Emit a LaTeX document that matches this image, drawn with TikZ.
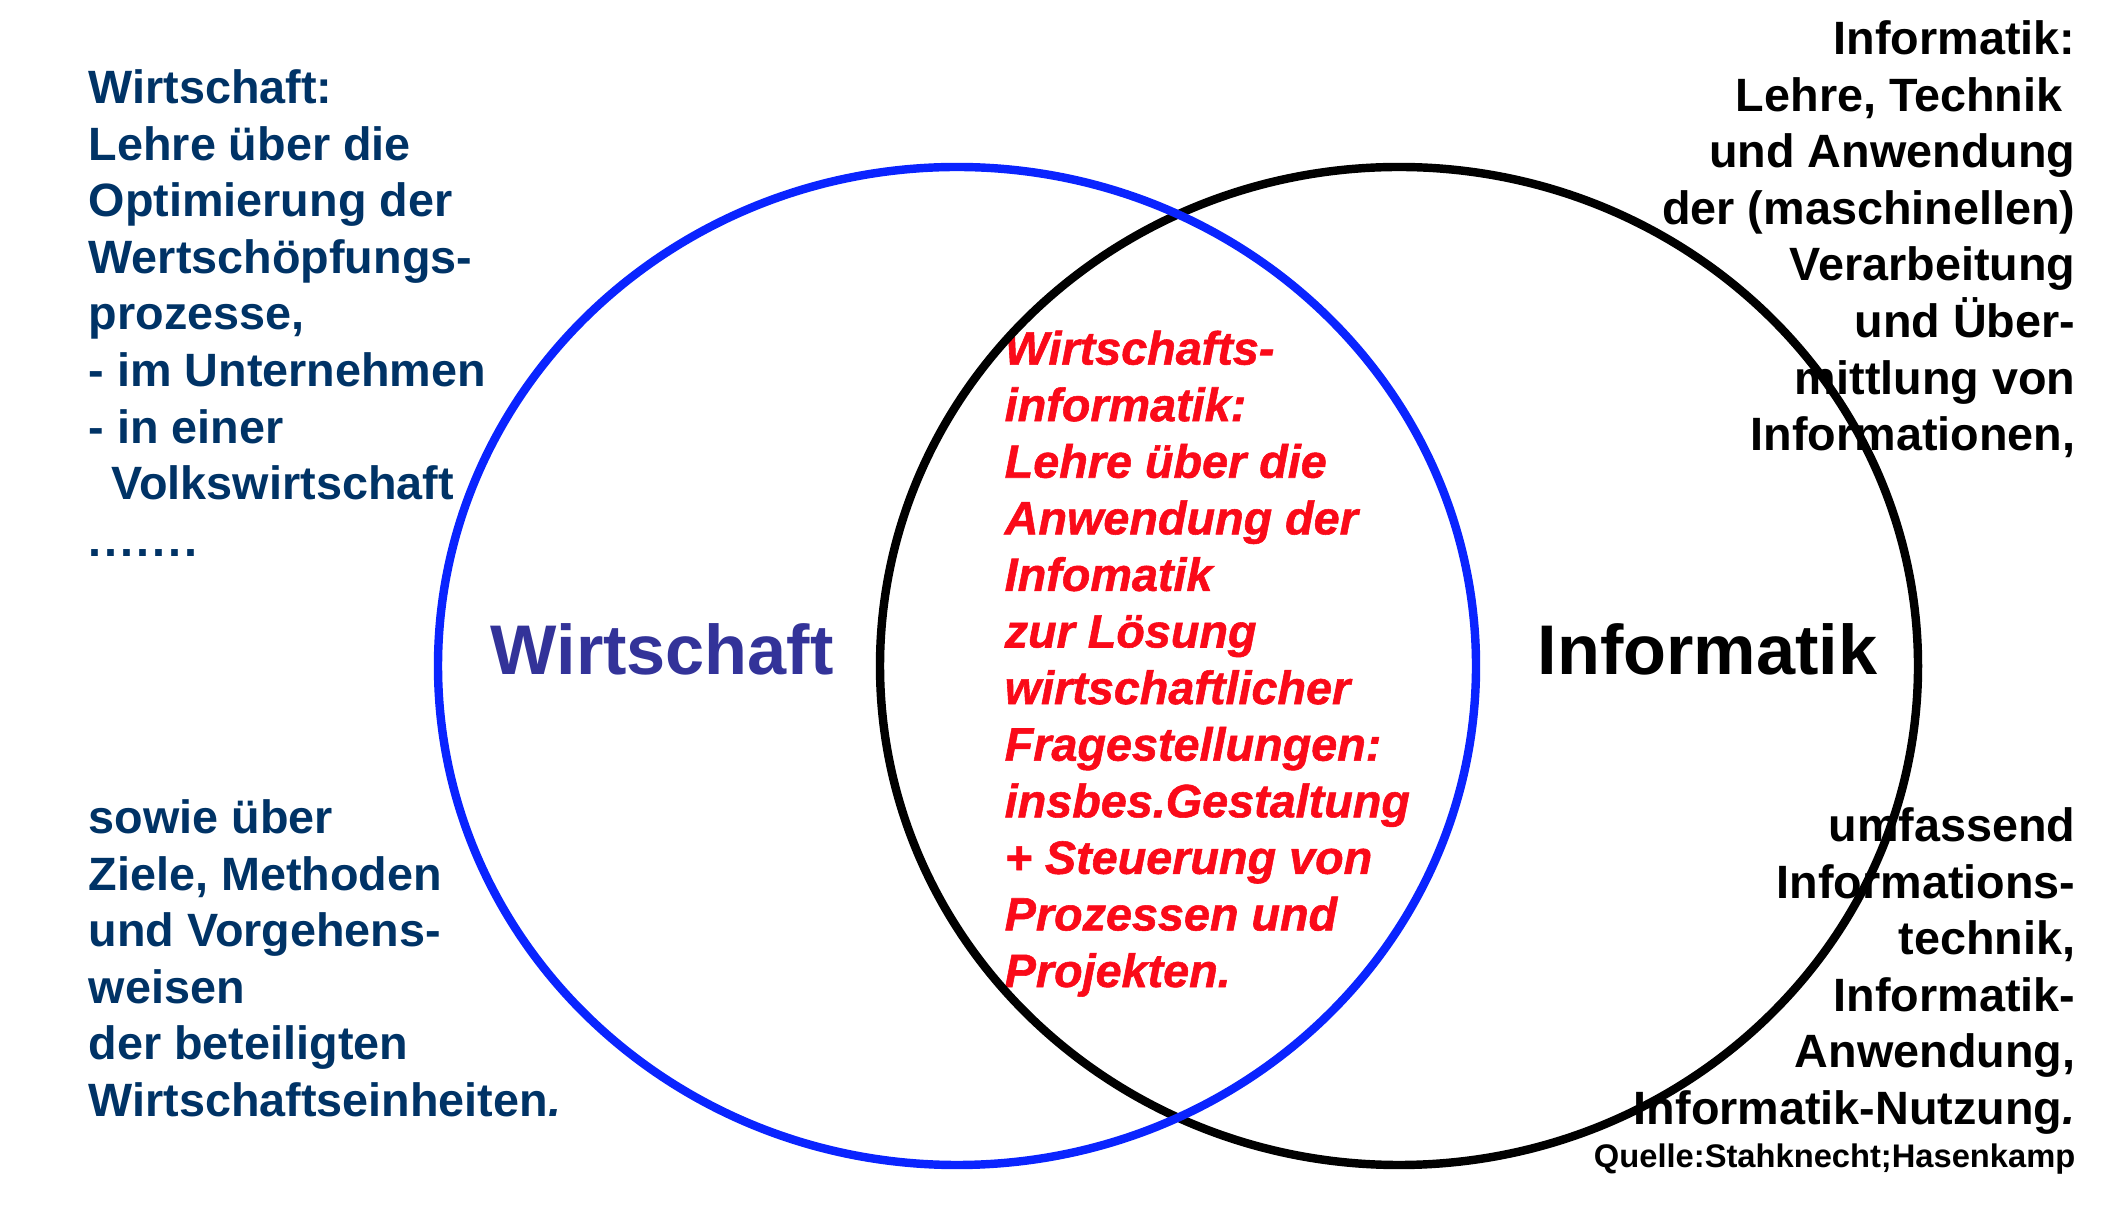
\documentclass[tikz,border=0pt]{standalone}
\usepackage{fontspec}
\setmainfont{Liberation Sans}
\newfontfamily\heavyItalic{Liberation Sans}[FakeBold=1.2,UprightFont=*,BoldFont=* Bold,ItalicFont=* Italic,BoldItalicFont=* Bold Italic]
\definecolor{navyText}{RGB}{0,51,102}
\definecolor{labelBlue}{RGB}{51,51,153}
\definecolor{ringBlue}{RGB}{10,36,255}
\definecolor{signalRed}{RGB}{250,10,25}

\begin{document}
\begin{tikzpicture}
[bodyText/.style={font=\fontsize{13.3}{16.1}\selectfont\bfseries,inner sep=0pt},
 leftText/.style={bodyText,text=navyText,align=left,anchor=north west},
 rightText/.style={bodyText,text=black,align=right,anchor=north east},
 middleText/.style={inner sep=0pt,text=signalRed,align=left,anchor=north west,
   font=\fontsize{13.3}{16.1}\selectfont\heavyItalic\bfseries\itshape},
 bigLabel/.style={font=\fontsize{20}{24}\selectfont\bfseries,inner sep=0pt,anchor=base west},
 setRing/.style={line width=2.4pt}]
\useasboundingbox (0,0) rectangle (21.14,12.04);
%% texts
\node[leftText] (wiDef) at (0.88,11.35)
  {Wirtschaft:\\Lehre über die\\Optimierung der\\Wertschöpfungs-\\prozesse,\\- im Unternehmen\\- in einer\\\hspace*{0.23cm}Volkswirtschaft\\.\kern.03cm.\kern.03cm.\kern.03cm.\kern.03cm.\kern.03cm.\kern.03cm.};
\node[leftText] (wiMore) at (0.88,4.05)
  {sowie über\\Ziele, Methoden\\und Vorgehens-\\weisen\\der beteiligten\\Wirtschaftseinheiten\textit{.}};
\node[rightText] (inDef) at (20.76,11.84)
  {Informatik:\\Lehre, Technik\hspace*{0.13cm}\mbox{}\\und Anwendung\\der (maschinellen)\\Verarbeitung\\und Über-\\mittlung von\\Informationen,};
\node[rightText] (inMore) at (20.76,3.97)
  {umfassend\\Informations-\\technik,\\Informatik-\\Anwendung,\\Informatik-Nutzung\textit{.}};
\node[inner sep=0pt,anchor=base east,font=\fontsize{9.3}{11}\selectfont\bfseries] (source) at (20.76,0.37)
  {Quelle:Stahknecht;Hasenkamp};
\node[middleText] (wiinfDef) at (10.04,8.74)
  {Wirtschafts-\\informatik:\\Lehre über die\\Anwendung der\\Infomatik\\zur Lösung\\wirtschaftlicher\\Fragestellungen:\\insbes.Gestaltung\\+ Steuerung von\\Prozessen und\\Projekten.};
\node[bigLabel,text=labelBlue] (wiLabel) at (4.90,5.29) {Wirtschaft};
\node[bigLabel,text=black] (inLabel) at (15.37,5.29) {Informatik};
%% the two sets
\draw[setRing,black] (13.99,5.38) ellipse [x radius=5.19,y radius=4.99];
\draw[setRing,ringBlue] (9.57,5.38) ellipse [x radius=5.19,y radius=4.99];
\end{tikzpicture}
\end{document}
